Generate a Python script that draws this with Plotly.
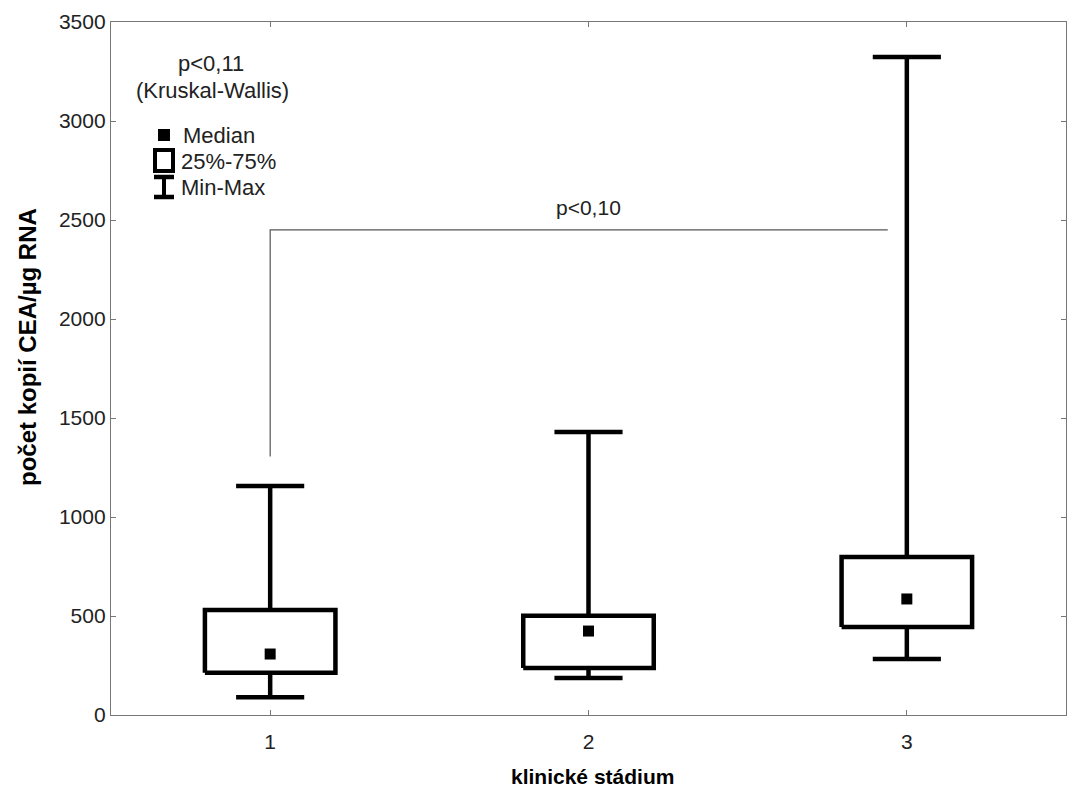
import plotly.graph_objects as go

# ---- data ----
stages = [1, 2, 3]
tick_labels = ["1", "2", "3"]
mins = [90, 187, 283]
q1s = [213, 237, 444]
medians = [308, 424, 586]
q3s = [530, 501, 798]
maxs = [1157, 1429, 3323]
bracket_low = 1305
bracket_high = 2450
bracket_x = [1, 2.94]

OFF = 8  # page body margin
# plot area in page pixels: x 111..1066, y 22..715
W, H = 1076 - 2 * OFF, 800 - 2 * OFF
L = 111 - OFF
T = 22 - OFF
R = W - (1066 - OFF)
B = H - (715 - OFF)
pw, ph = W - L - R, H - T - B

def px(x):  # page pixel -> paper
    return (x - OFF - L) / pw

def py(y):
    return (H - B - (y - OFF)) / ph

box_half = 0.205
cap_half = 0.107
LW = 4.5
FONT = "Liberation Sans, Arial, sans-serif"
TXT = "#222222"

fig = go.Figure()
for s, lo, a, m, b, hi in zip(stages, mins, q1s, medians, q3s, maxs):
    fig.add_trace(go.Scatter(x=[s, s, None, s, s], y=[hi, b, None, a, lo], mode="lines",
                             line=dict(color="black", width=LW), hoverinfo="skip", showlegend=False))
    fig.add_trace(go.Scatter(x=[s - cap_half, s + cap_half, None, s - cap_half, s + cap_half],
                             y=[hi, hi, None, lo, lo], mode="lines",
                             line=dict(color="black", width=LW), hoverinfo="skip", showlegend=False))
    fig.add_trace(go.Scatter(x=[s - box_half, s + box_half, s + box_half, s - box_half, s - box_half],
                             y=[a, a, b, b, a], mode="lines",
                             line=dict(color="black", width=LW), fill="toself", fillcolor="white",
                             hoverinfo="skip", showlegend=False))
    fig.add_trace(go.Scatter(x=[s], y=[m], mode="markers",
                             marker=dict(symbol="square", size=11, color="black"),
                             showlegend=False))

# significance bracket
fig.add_trace(go.Scatter(x=[bracket_x[0], bracket_x[0], bracket_x[1]],
                         y=[bracket_low, bracket_high, bracket_high], mode="lines",
                         line=dict(color="#555555", width=1.2), hoverinfo="skip", showlegend=False))
fig.add_annotation(x=2, y=bracket_high, xref="x", yref="y", yshift=22, text="p<0,10",
                   xanchor="center", yanchor="middle",
                   showarrow=False, font=dict(family=FONT, size=21, color=TXT))

# legend decorations
shapes = []
shapes.append(dict(type="rect", xref="paper", yref="paper", x0=px(158), x1=px(170), y0=py(141), y1=py(129),
                   fillcolor="black", line=dict(width=0)))
shapes.append(dict(type="rect", xref="paper", yref="paper", x0=px(155), x1=px(173), y0=py(171), y1=py(150),
                   fillcolor="white", line=dict(color="black", width=4)))
for yy in (177, 197):
    shapes.append(dict(type="line", xref="paper", yref="paper", x0=px(154), x1=px(174), y0=py(yy), y1=py(yy),
                       line=dict(color="black", width=4.5)))
shapes.append(dict(type="line", xref="paper", yref="paper", x0=px(164), x1=px(164), y0=py(177), y1=py(197),
                   line=dict(color="black", width=4)))

def label(text, x, y, xanchor="center", size=22, bold=False, angle=0, color=TXT):
    fig.add_annotation(x=px(x), y=py(y), xref="paper", yref="paper", text=text, showarrow=False,
                       xanchor=xanchor, yanchor="middle", textangle=angle,
                       font=dict(family=FONT, size=size, color=color, weight="bold" if bold else "normal"))

label("p<0,11", 211, 63)
label("(Kruskal-Wallis)", 212, 91)
label("Median", 181, 136, xanchor="left")
label("25%-75%", 179, 162, xanchor="left")
label("Min-Max", 179, 188, xanchor="left")

# axis titles
label("klinické stádium", 592, 776, size=21, bold=True, color="black")
label("počet kopií CEA/µg RNA", 28, 347, size=24, bold=True, angle=-90, color="black")

axis_common = dict(showgrid=False, zeroline=False, showline=True, linecolor="#777", linewidth=1.3,
                   mirror="ticks", ticks="inside", ticklen=5, tickcolor="#777",
                   tickfont=dict(family=FONT, size=21, color=TXT))
fig.update_layout(
    width=W, height=H, margin=dict(l=L, r=R, t=T, b=B),
    paper_bgcolor="white", plot_bgcolor="white", shapes=shapes, showlegend=False,
    xaxis=dict(range=[0.5, 3.5], tickvals=stages, ticktext=tick_labels, ticklabelstandoff=8, **axis_common),
    yaxis=dict(range=[0, 3500], dtick=500, **axis_common),
)

fig.write_html("out.html")
